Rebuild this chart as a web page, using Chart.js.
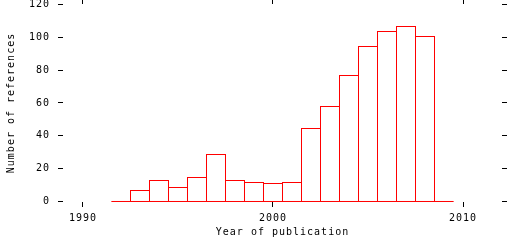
<!DOCTYPE html>
<html>
<head>
<meta charset="utf-8">
<script src="https://cdn.jsdelivr.net/npm/chart.js@4/dist/chart.umd.min.js"></script>
<style>
html,body{margin:0;padding:0;background:#fff;}
#wrap{width:512px;height:240px;}
</style>
</head>
<body>
<div id="wrap"><canvas id="c" width="512" height="240"></canvas></div>
<script>
// Data
const years  = [1992,1993,1994,1995,1996,1997,1998,1999,2000,2001,2002,2003,2004,2005,2006,2007,2008,2009];
const counts = [0,   7,   13,  9,   15,  29,  13,  12,  11,  12,  45,  58,  77,  95,  104, 107, 101, 0];
const xTickValues = [1990, 2000, 2010];
const yTickValues = [0, 20, 40, 60, 80, 100, 120];
const xTitle = 'Year of publication';
const yTitle = 'Number of references';

const RED = '#ff0000';
const FONT = {family: '"DejaVu Sans Mono", "Liberation Mono", monospace', size: 10};

const barData = years.map((y, i) => ({x: y, y: counts[i]}));
const baseData = [{x: years[0] - 0.5, y: 0}, {x: years[years.length - 1] + 0.5, y: 0}];

// monospace bitmap-like look: widen letter spacing
const spacing = {
  id: 'spacing',
  beforeUpdate(chart) { chart.ctx.letterSpacing = '1px'; },
  beforeDraw(chart) { chart.ctx.letterSpacing = '1px'; }
};
// snap bar tops to whole pixels for crisp 1px outlines
const snap = {
  id: 'snap',
  afterDatasetsUpdate(chart) {
    chart.getDatasetMeta(0).data.forEach(el => { el.y = Math.round(el.y); });
  }
};

const setTicks = (vals) => (scale) => { scale.ticks = vals.map(v => ({value: v})); };

const xMin = 1988.94737, xMax = 2012.05263;
const yMin = -0.3046, yMax = 120.3046;

const gridOpts = (len) => ({offset: false, drawOnChartArea: false, drawTicks: true, tickLength: len, color: '#000', lineWidth: 1});
const fitH = (h) => (s) => { s.height = h; s.paddingLeft = 0; s.paddingRight = 0; };
const fitW = (w) => (s) => { s.width = w; s.paddingTop = 0; s.paddingBottom = 0; };

new Chart(document.getElementById('c'), {
  type: 'bar',
  data: {
    datasets: [
      {
        type: 'bar',
        data: barData,
        backgroundColor: 'rgba(255,255,255,0)',
        borderColor: RED,
        borderSkipped: false,
        inflateAmount: 0,
        barPercentage: 20 / 19,   // neighbouring boxes share one outline column
        categoryPercentage: 1,
        borderWidth: {top: 1, left: 1, right: 1, bottom: 0},
        xAxisID: 'x', yAxisID: 'y'
      },
      {
        type: 'line',
        data: baseData,
        borderColor: RED,
        borderWidth: 1,
        pointRadius: 0,
        clip: false,
        xAxisID: 'x', yAxisID: 'y'
      }
    ]
  },
  options: {
    responsive: false,
    animation: false,
    devicePixelRatio: 1,
    layout: {padding: 0},
    plugins: {legend: {display: false}, tooltip: {enabled: false}},
    scales: {
      x: {
        type: 'linear', position: 'bottom', min: xMin, max: xMax, offset: false,
        afterBuildTicks: setTicks(xTickValues),
        afterFit: fitH(38),
        grid: gridOpts(5), border: {display: false},
        ticks: {color: '#000', font: FONT, padding: 5, maxRotation: 0, autoSkip: false, callback: v => String(v)},
        title: {display: true, text: xTitle, color: '#000', font: FONT, padding: {top: 0, bottom: 2}}
      },
      x2: {
        type: 'linear', position: 'top', min: xMin, max: xMax, offset: false,
        afterBuildTicks: setTicks(xTickValues),
        afterFit: fitH(4),
        grid: gridOpts(4), border: {display: false},
        ticks: {display: false}
      },
      y: {
        type: 'linear', position: 'left', min: yMin, max: yMax,
        afterBuildTicks: setTicks(yTickValues),
        afterFit: fitW(63),
        grid: gridOpts(5), border: {display: false},
        ticks: {color: '#000', font: FONT, padding: 8, callback: v => String(v)},
        title: {display: true, text: yTitle, color: '#000', font: FONT, padding: {top: 5, bottom: 0}}
      },
      y2: {
        type: 'linear', position: 'right', min: yMin, max: yMax,
        afterBuildTicks: setTicks(yTickValues),
        afterFit: fitW(10),
        grid: gridOpts(5), border: {display: false},
        ticks: {display: false}
      }
    }
  },
  plugins: [spacing, snap]
});
</script>
</body>
</html>
